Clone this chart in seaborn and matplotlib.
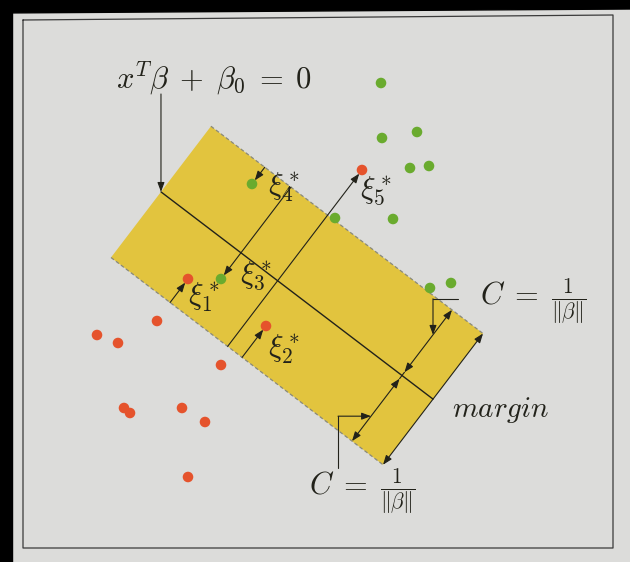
import numpy as np
import pandas as pd
import matplotlib
matplotlib.use("Agg")
import matplotlib.pyplot as plt
import seaborn as sns
from matplotlib.patches import Polygon, Rectangle, FancyArrowPatch

sns.set_theme(style="white")
plt.rcParams["mathtext.fontset"] = "cm"
plt.rcParams["font.family"] = ["DejaVu Serif"]

# Observations in plane coordinates (second coordinate grows downward)
green_x = [381, 382, 417, 410, 429, 393, 335, 252, 221, 430, 451]
green_y = [83, 138, 132, 168, 166, 219, 218, 184, 279, 288, 283]
red_x = [362, 188, 266, 157, 97, 118, 221, 124, 130, 182, 205, 188]
red_y = [170, 279, 326, 321, 335, 343, 365, 408, 413, 408, 422, 477]

# Points with positive slack: (class, index within class, label)
slack_points = [
    ("red", 1, r"$\xi_1^*$"),
    ("red", 2, r"$\xi_2^*$"),
    ("green", 8, r"$\xi_3^*$"),
    ("green", 7, r"$\xi_4^*$"),
    ("red", 0, r"$\xi_5^*$"),
]
slack_label_offsets = [(16, 19), (18, 24), (35, -3), (32, 4), (14, 21)]

# Separating hyperplane and margin
angle_deg = 37.3
center = np.array([297.0, 295.5])
half_len = 171.0
C = 82.5

PAGE = "#dcdcda"
YELLOW = "#e2c43e"
GREEN = "#6aab2e"
RED = "#e5532c"
INK = "#22221a"

u = np.array([np.cos(np.radians(angle_deg)), np.sin(np.radians(angle_deg))])
n = np.array([-u[1], u[0]])  # normal pointing toward the red class


def pt(t, s):
    """Point at position t along the hyperplane and signed offset s."""
    return center + t * u + s * n


df = pd.DataFrame({
    "x1": green_x + red_x,
    "x2": green_y + red_y,
    "cls": ["green"] * len(green_x) + ["red"] * len(red_x),
})

fig = plt.figure(figsize=(6.30, 5.62), dpi=100)
fig.patch.set_facecolor(PAGE)
ax = fig.add_axes([0, 0, 1, 1])
ax.set_facecolor(PAGE)

# dark surround at left and top edges
ax.add_patch(Rectangle((0, 0), 12, 562, color="black", zorder=0.5))
ax.add_patch(Polygon([(0, 0), (630, 0), (630, 9), (0, 13)], closed=True,
                     color="black", zorder=0.5))

# figure frame
ax.plot([23, 613, 613, 23, 23], [20, 15, 548, 548, 20], color="#3a3a3a",
        lw=0.9, zorder=1)

# margin band
corners = [pt(-half_len, -C), pt(half_len, -C), pt(half_len, C), pt(-half_len, C)]
ax.add_patch(Polygon(corners, closed=True, facecolor=YELLOW, edgecolor="none",
                     zorder=1.5))
for s in (-C, C):
    a, b = pt(-half_len, s), pt(half_len, s)
    ax.plot([a[0], b[0]], [a[1], b[1]], color="#8a8a7a", lw=0.9,
            ls=(0, (3, 2)), zorder=2)

# hyperplane
a, b = pt(-half_len, 0), pt(half_len, 0)
ax.plot([a[0], b[0]], [a[1], b[1]], color=INK, lw=1.0, zorder=3)


def arrow(p0, p1, style="-|>", lw=0.8):
    ax.add_patch(FancyArrowPatch(tuple(p0), tuple(p1),
                                 arrowstyle=style + ",head_length=0.8,head_width=0.3",
                                 mutation_scale=7, color=INK, lw=lw,
                                 shrinkA=0, shrinkB=0, zorder=4))


# slack segments from each point back to its own margin
for (cls, idx, label), (dx, dy) in zip(slack_points, slack_label_offsets):
    xs, ys = (green_x, green_y) if cls == "green" else (red_x, red_y)
    p = np.array([xs[idx], ys[idx]], dtype=float)
    d = np.dot(p - center, n)
    target = -C if cls == "green" else C
    start = p + (target - d) * n
    end = p + 4.5 * np.sign(target - d) * n
    arrow(start, end)
    ax.text(p[0] + dx, p[1] + dy, label, fontsize=22, ha="center",
            va="center", color=INK, zorder=5)

# margin width arrows
t_in = 132.0
arrow(pt(t_in, -4), pt(t_in, -C), "<|-|>")
arrow(pt(t_in, 4), pt(t_in, C), "<|-|>")
ax.plot(*zip(pt(t_in, -4), pt(t_in, 4)), color=INK, lw=0.8, zorder=4)
arrow(pt(half_len, -C), pt(half_len, C), "<|-|>")

# data points
sns.scatterplot(data=df, x="x1", y="x2", hue="cls",
                palette={"green": GREEN, "red": RED}, s=58, linewidth=0,
                legend=False, ax=ax, zorder=6)
ax.set_xlim(0, 630)
ax.set_ylim(562, 0)
ax.axis("off")

# hyperplane label with leader
hp_start = pt(-half_len, 0)
ax.text(214, 78, r"$x^T\beta \;+\; \beta_0 \;=\; 0$", fontsize=22,
        ha="center", va="center", color=INK)
arrow((hp_start[0], 94), hp_start)

# margin half-width labels with elbow leaders
up_tip = pt(t_in, -0.62 * C)
ax.plot([up_tip[0] + 25, up_tip[0]], [up_tip[1] - 36, up_tip[1] - 36],
        color=INK, lw=0.8, zorder=4)
arrow((up_tip[0], up_tip[1] - 36), up_tip)
ax.text(533, 302, r"$C\;=\;\frac{1}{\|\beta\|}$", fontsize=22, ha="center",
        va="center", color=INK)

lo_tip = pt(t_in, 0.62 * C)
ax.plot([lo_tip[0] - 33, lo_tip[0] - 33], [lo_tip[1] + 52, lo_tip[1]],
        color=INK, lw=0.8, zorder=4)
arrow((lo_tip[0] - 33, lo_tip[1]), lo_tip)
ax.text(362, 492, r"$C\;=\;\frac{1}{\|\beta\|}$", fontsize=22, ha="center",
        va="center", color=INK)

ax.text(500, 410, r"$margin$", fontsize=21, ha="center", va="center",
        color=INK)

fig.savefig("out.png", dpi=100, facecolor=fig.get_facecolor())
